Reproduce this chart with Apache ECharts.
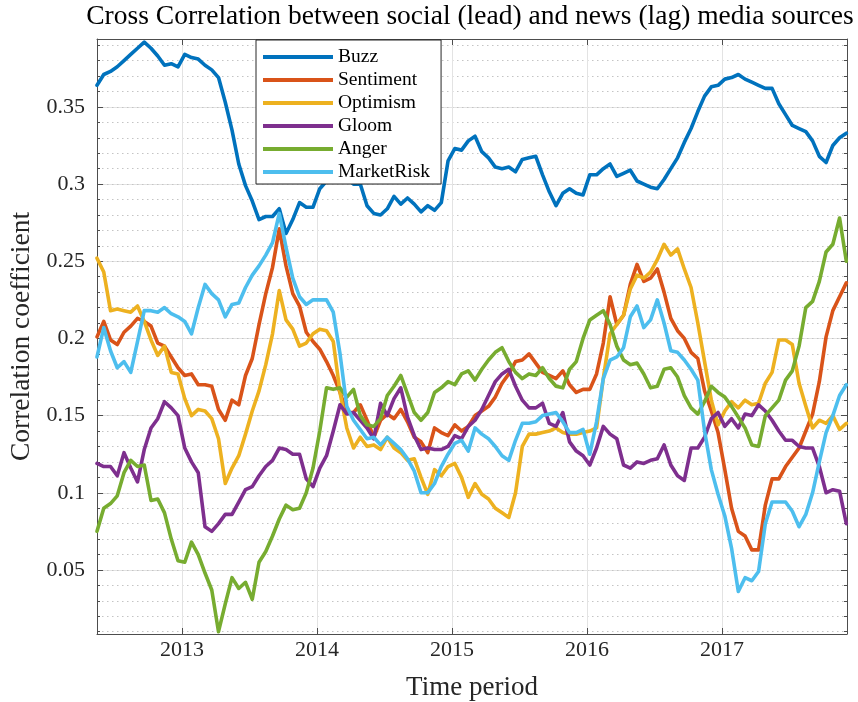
<!DOCTYPE html>
<html>
<head>
<meta charset="utf-8">
<script src="https://cdn.jsdelivr.net/npm/echarts@6/dist/echarts.min.js"></script>
<style>
  html, body { margin: 0; padding: 0; background: #ffffff; }
  #chart { width: 858px; height: 702px; }
</style>
</head>
<body>
<div id="chart"></div>
<script>
// Sample dates (decimal years)
const years = [
  2012.37, 2012.42, 2012.47, 2012.52, 2012.57, 2012.62, 2012.67, 2012.72, 2012.77, 2012.82, 2012.87, 2012.92, 2012.97,
  2013.02, 2013.07, 2013.12, 2013.17, 2013.22, 2013.27, 2013.32, 2013.37, 2013.42, 2013.47, 2013.52, 2013.57, 2013.62, 2013.67, 2013.72, 2013.77, 2013.82, 2013.87, 2013.92, 2013.97,
  2014.02, 2014.07, 2014.12, 2014.17, 2014.22, 2014.27, 2014.32, 2014.37, 2014.42, 2014.47, 2014.52, 2014.57, 2014.62, 2014.67, 2014.72, 2014.77, 2014.82, 2014.87, 2014.92, 2014.97,
  2015.02, 2015.07, 2015.12, 2015.17, 2015.22, 2015.27, 2015.32, 2015.37, 2015.42, 2015.47, 2015.52, 2015.57, 2015.62, 2015.67, 2015.72, 2015.77, 2015.82, 2015.87, 2015.92, 2015.97,
  2016.02, 2016.07, 2016.12, 2016.17, 2016.22, 2016.27, 2016.32, 2016.37, 2016.42, 2016.47, 2016.52, 2016.57, 2016.62, 2016.67, 2016.72, 2016.77, 2016.82, 2016.87, 2016.92, 2016.97,
  2017.02, 2017.07, 2017.12, 2017.17, 2017.22, 2017.27, 2017.32, 2017.37, 2017.42, 2017.47, 2017.52, 2017.57, 2017.62, 2017.67, 2017.72, 2017.77, 2017.82, 2017.87, 2017.92
];

const buzz = [
  .364,.371,.373,.376,.380,.384,.388,.392,.388,.383,
  .377,.378,.376,.384,.382,.381,.377,.374,.369,.353,
  .335,.313,.299,.289,.277,.279,.279,.284,.268,.277,
  .288,.285,.285,.297,.302,.306,.309,.304,.300,.300,
  .286,.281,.280,.284,.292,.287,.291,.287,.282,.286,
  .283,.288,.315,.323,.322,.328,.331,.321,.317,.311,
  .310,.311,.308,.316,.317,.318,.306,.295,.286,.294,
  .297,.294,.293,.306,.306,.310,.313,.305,.307,.309,
  .302,.300,.298,.297,.303,.310,.317,.327,.336,.347,
  .357,.363,.364,.368,.369,.371,.368,.366,.364,.362,
  .362,.352,.345,.338,.336,.334,.328,.318,.314,.325,
  .330,.333
];

const sentiment = [
  .201,.211,.199,.196,.204,.208,.213,.211,.208,.197,
  .195,.188,.181,.176,.177,.170,.170,.169,.154,.147,
  .160,.157,.176,.187,.209,.229,.246,.271,.247,.229,
  .221,.204,.198,.193,.185,.176,.165,.152,.152,.157,
  .147,.136,.147,.151,.148,.154,.146,.136,.133,.126,
  .142,.139,.137,.144,.140,.143,.150,.153,.156,.162,
  .171,.177,.185,.186,.190,.184,.178,.176,.174,.179,
  .170,.165,.167,.167,.177,.197,.227,.209,.215,.235,
  .248,.237,.239,.245,.230,.213,.205,.200,.191,.187,
  .166,.153,.139,.115,.090,.075,.072,.063,.063,.092,
  .109,.109,.117,.123,.129,.140,.151,.172,.201,.218,
  .227,.236
];

const optimism = [
  .252,.243,.218,.219,.218,.217,.221,.211,.199,.189,
  .195,.178,.177,.161,.150,.154,.153,.148,.135,.106,
  .116,.124,.138,.153,.166,.183,.203,.231,.212,.206,
  .195,.197,.203,.206,.205,.198,.165,.142,.129,.136,
  .130,.131,.128,.136,.129,.126,.121,.122,.110,.099,
  .115,.111,.117,.119,.110,.097,.106,.099,.096,.090,
  .087,.084,.100,.130,.138,.138,.139,.140,.142,.139,
  .138,.138,.139,.140,.142,.174,.203,.209,.215,.232,
  .241,.239,.243,.251,.261,.254,.258,.245,.233,.210,
  .185,.160,.144,.153,.159,.155,.160,.157,.158,.171,
  .178,.199,.199,.196,.171,.156,.142,.147,.145,.150,
  .141,.145
];

const gloom = [
  .119,.117,.117,.111,.126,.116,.107,.128,.142,.148,
  .159,.155,.150,.129,.120,.113,.078,.075,.080,.086,
  .086,.094,.102,.104,.111,.117,.121,.129,.128,.125,
  .125,.109,.104,.116,.124,.140,.157,.151,.152,.147,
  .142,.135,.158,.150,.161,.168,.149,.137,.128,.129,
  .128,.128,.130,.137,.135,.143,.147,.154,.163,.172,
  .177,.180,.169,.160,.155,.155,.158,.145,.143,.152,
  .133,.127,.124,.118,.129,.143,.138,.135,.118,.116,
  .120,.119,.121,.122,.131,.118,.111,.108,.129,.129,
  .136,.148,.152,.143,.148,.142,.151,.150,.157,.153,
  .147,.140,.134,.134,.130,.129,.129,.117,.100,.102,
  .101,.080
];

const anger = [
  .075,.090,.093,.098,.113,.121,.117,.118,.095,.096,
  .087,.070,.056,.055,.068,.060,.048,.037,.010,.028,
  .045,.038,.042,.031,.055,.062,.072,.083,.092,.089,
  .090,.100,.116,.140,.168,.167,.168,.162,.167,.150,
  .144,.143,.148,.163,.169,.176,.164,.152,.147,.152,
  .165,.168,.172,.170,.177,.179,.173,.180,.186,.191,
  .194,.185,.178,.174,.177,.176,.181,.174,.169,.168,
  .180,.185,.200,.212,.215,.218,.209,.195,.186,.183,
  .184,.177,.168,.169,.180,.181,.175,.163,.155,.151,
  .159,.169,.165,.162,.156,.149,.142,.131,.130,.150,
  .155,.160,.173,.179,.195,.220,.224,.237,.256,.261,
  .278,.250
];

const marketRisk = [
  .188,.207,.192,.181,.185,.178,.198,.218,.218,.217,
  .220,.216,.214,.211,.203,.220,.235,.229,.225,.214,
  .222,.223,.233,.241,.247,.254,.262,.281,.259,.239,
  .227,.222,.225,.225,.225,.217,.190,.156,.147,.141,
  .135,.136,.131,.136,.132,.128,.122,.114,.100,.100,
  .106,.117,.125,.132,.134,.127,.142,.138,.135,.130,
  .124,.121,.134,.145,.145,.146,.150,.151,.152,.146,
  .139,.139,.141,.125,.146,.174,.186,.188,.194,.214,
  .221,.207,.212,.225,.210,.192,.191,.186,.180,.173,
  .140,.115,.099,.085,.064,.036,.045,.043,.049,.080,
  .094,.094,.094,.088,.078,.086,.100,.120,.139,.150,
  .163,.170
];

const seriesNames = ['Buzz', 'Sentiment', 'Optimism', 'Gloom', 'Anger', 'MarketRisk'];
const seriesValues = [buzz, sentiment, optimism, gloom, anger, marketRisk];
const seriesColors = ['#0072BD', '#D95319', '#EDB120', '#7E2F8E', '#77AC30', '#4DBEEE'];

// Axis ticks
const yearTicks = [2013, 2014, 2015, 2016, 2017];
const corrTicks = [0.05, 0.1, 0.15, 0.2, 0.25, 0.3, 0.35];
const corrMinorTicks = [
  0.01, 0.02, 0.03, 0.04, 0.05, 0.06, 0.07, 0.08, 0.09, 0.10,
  0.11, 0.12, 0.13, 0.14, 0.15, 0.16, 0.17, 0.18, 0.19, 0.20,
  0.21, 0.22, 0.23, 0.24, 0.25, 0.26, 0.27, 0.28, 0.29, 0.30,
  0.31, 0.32, 0.33, 0.34, 0.35, 0.36, 0.37, 0.38, 0.39
];

const X_MIN = 2012.37, X_MAX = 2017.925;
const Y_MIN = 0.0085, Y_MAX = 0.394;

const FONT = 'Liberation Serif';
const TEXT = '#262626';
const AXIS = '#4d4d4d';

const yBase = { type: 'value', min: Y_MIN, max: Y_MAX, axisLabel: { show: false }, splitLine: { show: false }, axisLine: { show: false }, axisTick: { show: false } };

const chart = echarts.init(document.getElementById('chart'), null, { renderer: 'canvas' });

chart.setOption({
  animation: false,
  backgroundColor: '#ffffff',
  title: {
    text: 'Cross Correlation between social (lead) and news (lag) media sources',
    left: 470, top: 3, padding: 0, textAlign: 'center',
    textStyle: { fontFamily: FONT, fontSize: 27.5, fontWeight: 'normal', color: '#000' }
  },
  legend: {
    orient: 'vertical', left: 256, top: 40,
    icon: 'rect', itemWidth: 70, itemHeight: 4, itemGap: 3,
    backgroundColor: '#ffffff', borderColor: '#262626', borderWidth: 1, borderRadius: 0,
    padding: [7, 11, 2, 7],
    textStyle: { fontFamily: FONT, fontSize: 19.5, color: '#000' },
    data: seriesNames
  },
  grid: { left: 97, right: 11, top: 39, bottom: 68, containLabel: false, outerBoundsMode: 'none' },
  xAxis: [
    {
      type: 'value', min: X_MIN, max: X_MAX, position: 'bottom',
      name: 'Time period', nameLocation: 'middle', nameGap: 40,
      nameTextStyle: { fontFamily: FONT, fontSize: 27, color: TEXT },
      axisLine: { show: true, onZero: false, lineStyle: { color: AXIS, width: 1 } },
      axisTick: { show: true, inside: true, length: 6, customValues: yearTicks, lineStyle: { color: AXIS } },
      axisLabel: { customValues: yearTicks, margin: 5, fontFamily: FONT, fontSize: 22, color: TEXT, formatter: v => String(Math.round(v)) },
      splitLine: { show: true, lineStyle: { color: '#e3e3e3', width: 1 } }
    },
    {
      type: 'value', min: X_MIN, max: X_MAX, position: 'top',
      axisLine: { show: true, onZero: false, lineStyle: { color: AXIS, width: 1 } },
      axisTick: { show: true, inside: true, length: 6, customValues: yearTicks, lineStyle: { color: AXIS } },
      axisLabel: { show: false }, splitLine: { show: false }
    }
  ],
  yAxis: [
    Object.assign({}, yBase, {
      position: 'left',
      name: 'Correlation coefficient', nameLocation: 'middle', nameGap: 60,
      nameTextStyle: { fontFamily: FONT, fontSize: 27.5, color: TEXT },
      axisLine: { show: true, onZero: false, lineStyle: { color: AXIS, width: 1 } },
      axisTick: { show: true, inside: true, length: 6, customValues: corrTicks, lineStyle: { color: AXIS } },
      axisLabel: { show: true, customValues: corrTicks, margin: 12, fontFamily: FONT, fontSize: 22, color: TEXT,
                   formatter: v => String(parseFloat(v.toFixed(2))) },
      splitLine: { show: true, lineStyle: { color: '#e3e3e3', width: 1 } }
    }),
    Object.assign({}, yBase, {
      position: 'right',
      axisLine: { show: true, onZero: false, lineStyle: { color: AXIS, width: 1 } },
      axisTick: { show: true, inside: true, length: 3, customValues: corrMinorTicks, lineStyle: { color: AXIS } },
      splitLine: { show: true, lineStyle: { color: '#c4c4c4', width: 1, type: [1.5, 3.5] } }
    }),
    Object.assign({}, yBase, {
      position: 'left',
      axisTick: { show: true, inside: true, length: 3, customValues: corrMinorTicks, lineStyle: { color: AXIS } }
    }),
    Object.assign({}, yBase, {
      position: 'right',
      axisTick: { show: true, inside: true, length: 6, customValues: corrTicks, lineStyle: { color: AXIS } }
    })
  ],
  series: seriesNames.map((name, i) => ({
    name: name,
    type: 'line',
    xAxisIndex: 0,
    yAxisIndex: 0,
    showSymbol: false,
    symbol: 'none',
    smooth: false,
    color: seriesColors[i],
    lineStyle: { color: seriesColors[i], width: 3.6, join: 'round', cap: 'round' },
    emphasis: { disabled: true },
    data: years.map((t, j) => [t, seriesValues[i][j]])
  }))
});
</script>
</body>
</html>
